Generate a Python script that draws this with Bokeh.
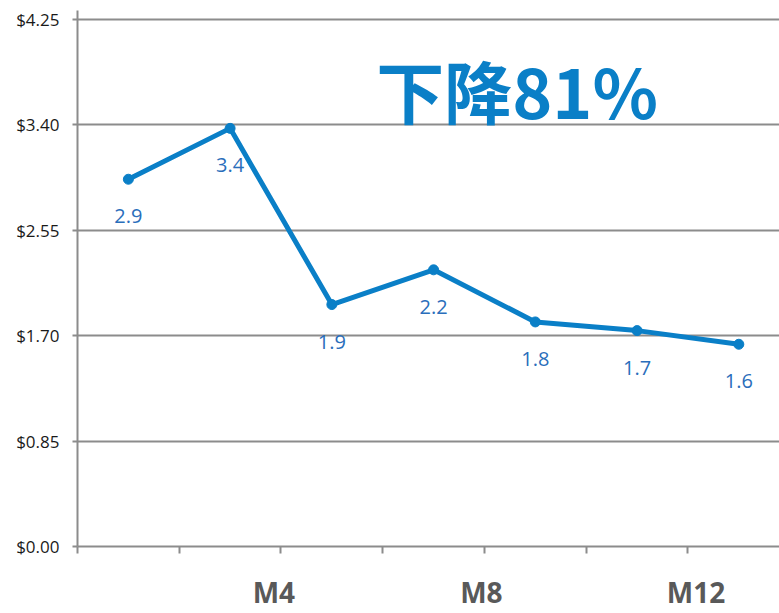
from bokeh.plotting import figure
from bokeh.models import FixedTicker, Label, ColumnDataSource, Range1d
from bokeh.core.properties import value
from bokeh.embed import file_html
from bokeh.resources import INLINE

# ---- data ----
x_pos = [1, 2, 3, 4, 5, 6, 7]
values = [2.96, 3.37, 1.95, 2.23, 1.81, 1.74, 1.63]
point_labels = ["2.9", "3.4", "1.9", "2.2", "1.8", "1.7", "1.6"]
y_ticks = [0.0, 0.85, 1.70, 2.55, 3.40, 4.25]
y_tick_labels = ["$0.00", "$0.85", "$1.70", "$2.55", "$3.40", "$4.25"]
x_label_pos = [2.43, 4.47, 6.58]
x_tick_labels = ["M4", "M8", "M12"]
x_boundaries = [0.5, 1.5, 2.5, 3.5, 4.5, 5.5, 6.5, 7.5]
title_text = "下降81%"

BLUE = "#0a7fc7"
LABEL_BLUE = "#2a6ebb"
GRID = "#8c8c8c"

p = figure(width=779, height=613, output_backend="svg", toolbar_location=None,
           x_range=Range1d(0.5, 7.4), y_range=Range1d(0, 4.32),
           min_border_left=77, min_border_right=0, min_border_top=10, min_border_bottom=0)
p.outline_line_color = None
p.background_fill_color = "white"
p.border_fill_color = "white"

# y axis
yax = p.yaxis[0]
yax.ticker = FixedTicker(ticks=y_ticks, minor_ticks=[])
yax.major_label_overrides = {t: l for t, l in zip(y_ticks, y_tick_labels)}
yax.axis_line_color = GRID
yax.axis_line_width = 2
yax.major_tick_line_color = GRID
yax.major_tick_line_width = 2
yax.major_tick_out = 5
yax.major_tick_in = 0
yax.minor_tick_line_color = None
yax.major_label_text_font = "Open Sans"
yax.major_label_text_font_size = "17px"
yax.major_label_text_color = "#1a1a1a"
yax.major_label_standoff = 13

# x axis
xax = p.xaxis[0]
xax.ticker = FixedTicker(ticks=x_label_pos, minor_ticks=x_boundaries)
xax.major_label_overrides = {t: l for t, l in zip(x_label_pos, x_tick_labels)}
xax.axis_line_color = GRID
xax.axis_line_width = 2
xax.major_tick_line_color = None
xax.major_tick_out = 0
xax.major_tick_in = 0
xax.minor_tick_line_color = GRID
xax.minor_tick_line_width = 2
xax.minor_tick_out = 7
xax.minor_tick_in = 0
xax.major_label_text_font = "Open Sans"
xax.major_label_text_font_style = "bold"
xax.major_label_text_font_size = "28px"
xax.major_label_text_color = "#595959"
xax.major_label_standoff = 19

p.xgrid.grid_line_color = None
p.ygrid.ticker = FixedTicker(ticks=y_ticks, minor_ticks=[])
p.ygrid.grid_line_color = GRID
p.ygrid.grid_line_width = 2

src = ColumnDataSource(dict(x=x_pos, y=values, lab=point_labels))
p.line("x", "y", source=src, line_color=BLUE, line_width=5)
p.scatter("x", "y", source=src, size=10, fill_color=BLUE, line_color=BLUE)
p.text("x", "y", text="lab", source=src, text_align="center", text_baseline="middle",
       y_offset=37, text_font=value("Open Sans"), text_font_size="20px", text_color=LABEL_BLUE)

p.add_layout(Label(x=4.82, y=3.68, text=title_text, text_align="center", text_baseline="middle",
                   text_font="Noto Sans CJK SC", text_font_style="bold", text_font_size="68px",
                   text_color=BLUE))

open("out.html", "w").write(file_html(p, INLINE))
